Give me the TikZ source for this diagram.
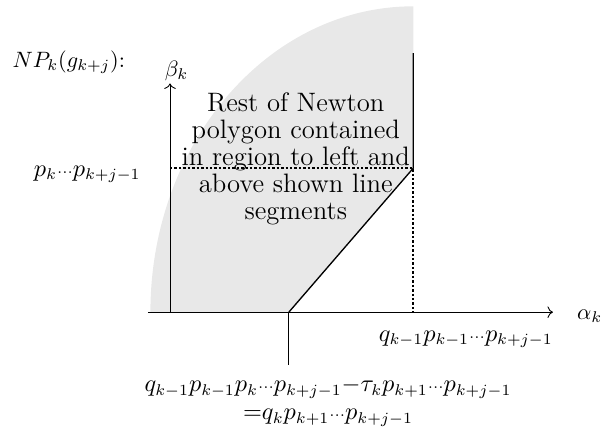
\documentclass[tikz,border=0pt]{standalone}
\usepackage{amsmath, amssymb}
\usetikzlibrary{arrows.meta}
\definecolor{regiongray}{RGB}{232,232,232}
\newcommand{\dts}{{\scriptstyle\cdots}}

\begin{document}
\begin{tikzpicture}[prodlabel/.style={font=\fontsize{10.7}{12.8}\selectfont},
        guide/.style={line width=0.9pt,dash pattern=on 1.1pt off 0.9pt}]
        \useasboundingbox (-2.69,-1.87) rectangle (6.82,4.94);
        \coordinate (O) at (0,0);
        \coordinate (xs) at (-0.35,0);
        \coordinate (xe) at (6.06,0);
        \coordinate (ye) at (0,3.62);
        \coordinate (A) at (1.88,0);
        \coordinate (At) at (1.88,-0.84);
        \coordinate (B) at (3.85,2.28);
        \coordinate (Bx) at (3.85,0);
        \coordinate (By) at (0,2.28);
        \coordinate (T) at (3.85,4.10);
        % region holding the rest of the polygon
        \fill[regiongray] (-0.31,0) arc[start angle=180,end angle=90,x radius=4.16,y radius=4.84] -- (B) -- (A) -- cycle;
        \draw[->] (xs) -- (xe);
        \draw[->] (O) -- (ye);
        \draw[guide] (By) -- (B) -- (Bx);
        \draw[semithick] (T) -- (B) -- (A);
        \draw (A) -- (At);
        \node (np) at (-1.60,3.96) {$NP_k(g_{k+j})$:};
        \node[above,inner sep=1pt,xshift=3pt] (beta) at (ye) {$\beta_k$};
        \node[anchor=west,inner sep=1pt] (alpha) at (6.40,-0.06) {$\alpha_k$};
        \node[prodlabel,anchor=east] (py) at (-0.34,2.18) {$p_k\dts p_{k+j-1}$};
        \node[prodlabel] (qx) at (4.68,-0.43) {$q_{k-1}p_{k-1}\dts p_{k+j-1}$};
        \node[prodlabel,align=center] (qa) at (2.5,-1.42) {$q_{k-1}p_{k-1}p_k\dts p_{k+j-1}{-}\tau_kp_{k+1}\dts p_{k+j-1}$\\${=}q_kp_{k+1}\dts p_{k+j-1}$};
        \node[align=center,font=\fontsize{12}{12.2}\selectfont] (rest) at (1.99,2.43) {Rest of Newton\\polygon contained\\in region to left and\\above shown line\\segments};
    \end{tikzpicture}
\end{document}
